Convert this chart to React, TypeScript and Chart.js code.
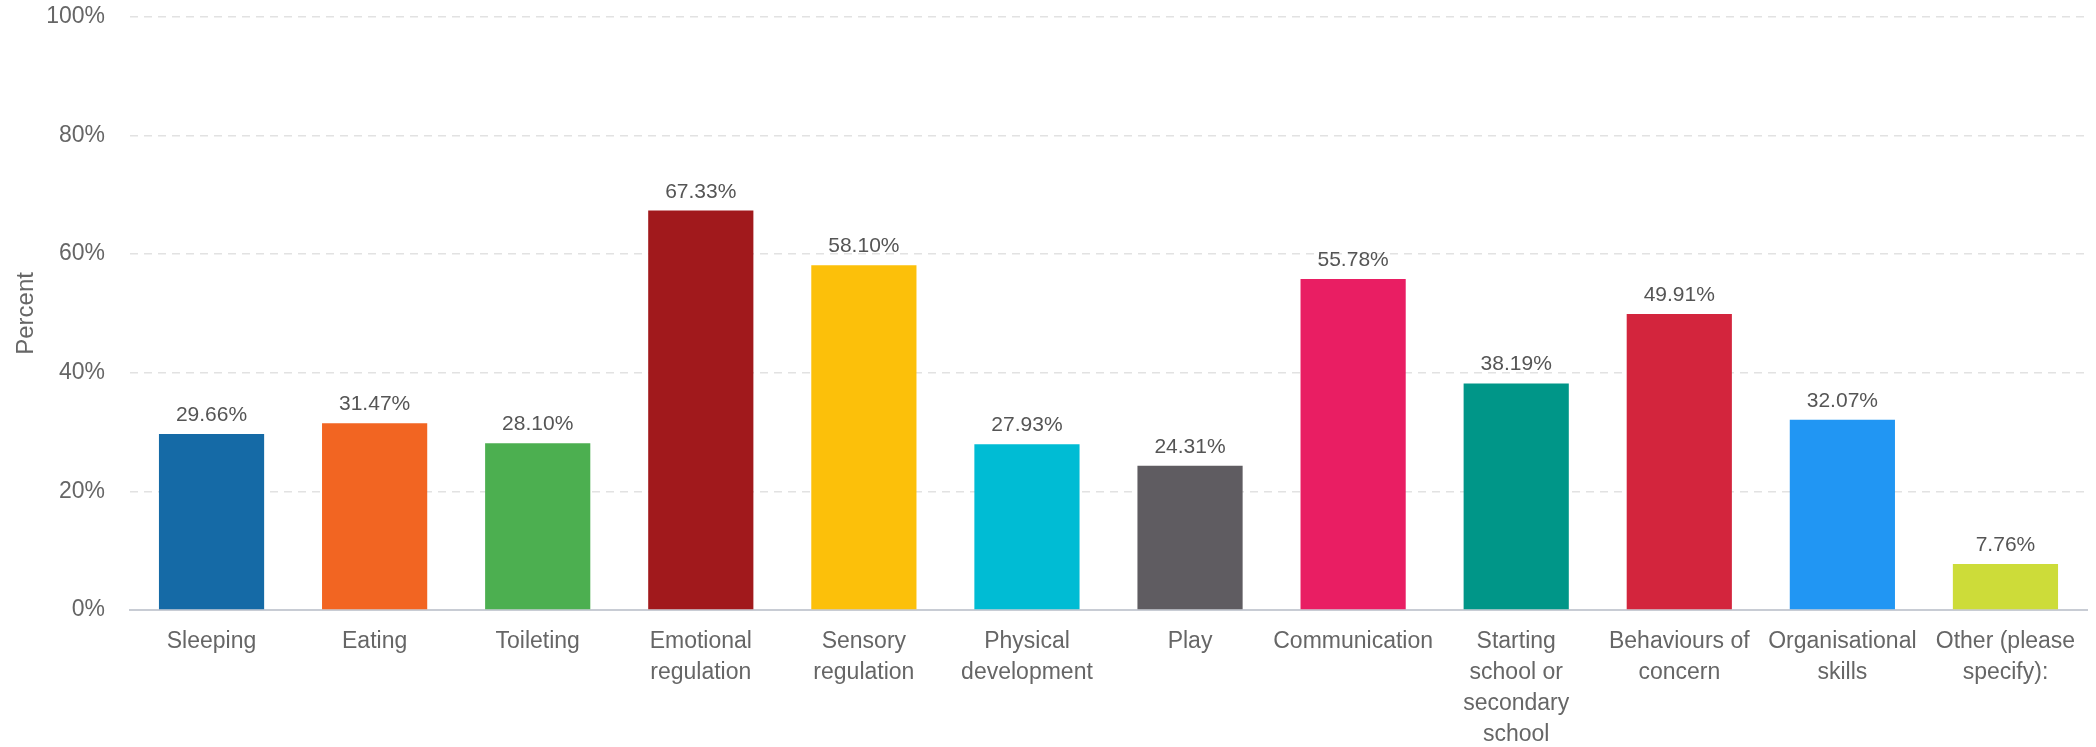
import React, { useEffect, useRef } from "react";
import { Chart, registerables } from "chart.js";

Chart.register(...registerables);

const categories: (string | string[])[] = [
  "Sleeping",
  "Eating",
  "Toileting",
  ["Emotional", "regulation"],
  ["Sensory", "regulation"],
  ["Physical", "development"],
  "Play",
  "Communication",
  ["Starting", "school or", "secondary", "school"],
  ["Behaviours of", "concern"],
  ["Organisational", "skills"],
  ["Other (please", "specify):"],
];

const percentValues: number[] = [
  29.66, 31.47, 28.1, 67.33, 58.1, 27.93, 24.31, 55.78, 38.19, 49.91, 32.07, 7.76,
];

const barColors: string[] = [
  "#156aa6",
  "#f26522",
  "#4caf50",
  "#a1191c",
  "#fcc00a",
  "#00bcd4",
  "#5f5c61",
  "#e91e63",
  "#009688",
  "#d3253d",
  "#2196f3",
  "#cddc39",
];

const yTicks: number[] = [0, 20, 40, 60, 80, 100];

const FONT = "'Liberation Sans', Arial, sans-serif";

const valueLabelPlugin = {
  id: "valueLabels",
  afterDatasetsDraw(chart: any) {
    const ctx = chart.ctx;
    const meta = chart.getDatasetMeta(0);
    ctx.save();
    ctx.font = `21px ${FONT}`;
    ctx.fillStyle = "#555555";
    ctx.textAlign = "center";
    ctx.textBaseline = "alphabetic";
    meta.data.forEach((bar: any, i: number) => {
      const v = percentValues[i];
      ctx.fillText(`${v.toFixed(2)}%`, bar.x, bar.y - 13);
    });
    ctx.restore();
  },
};

export default function App() {
  const canvasRef = useRef<HTMLCanvasElement | null>(null);

  useEffect(() => {
    document.body.style.margin = "0";
    if (!canvasRef.current) return;
    const chart = new Chart(canvasRef.current, {
      type: "bar",
      data: {
        labels: categories,
        datasets: [
          {
            data: percentValues,
            backgroundColor: barColors,
            borderWidth: 0,
            barPercentage: 0.645,
            categoryPercentage: 1,
          },
        ],
      },
      options: {
        animation: false,
        responsive: true,
        maintainAspectRatio: false,
        layout: { padding: { top: 0, right: 9, left: 0, bottom: 0 } },
        plugins: {
          legend: { display: false },
          tooltip: { enabled: false },
        },
        scales: {
          x: {
            grid: { display: false, drawTicks: false },
            border: { display: true, color: "#c8ccd4", width: 2 },
            ticks: {
              color: "#666666",
              font: { family: FONT, size: 23, lineHeight: 1.35 },
              padding: 16,
              maxRotation: 0,
              autoSkip: false,
            },
            afterFit(scale: any) {
              scale.height = 137;
            },
          },
          y: {
            min: 0,
            max: 100,
            afterBuildTicks(scale: any) {
              scale.ticks = yTicks.map((v) => ({ value: v }));
            },
            ticks: {
              color: "#666666",
              font: { family: FONT, size: 23 },
              padding: 3,
              callback: (v: any) => `${v}%`,
            },
            grid: {
              color: (c: any) => (c.tick && c.tick.value === 0 ? "rgba(0,0,0,0)" : "#e2e2e2"),
              lineWidth: 1.5,
              drawTicks: true,
              tickLength: 22,
              tickColor: "rgba(0,0,0,0)",
            },
            border: { display: false, dash: [8, 6] },
            title: {
              display: true,
              text: "Percent",
              color: "#666666",
              font: { family: FONT, size: 24 },
              padding: { top: 12, bottom: 0 },
            },
            afterFit(scale: any) {
              scale.width = 130;
            },
          },
        },
      },
      plugins: [valueLabelPlugin],
    });
    return () => chart.destroy();
  }, []);

  return (
    <div style={{ position: "fixed", left: 0, top: 0, width: "2096px", height: "747px", background: "#fff" }}>
      <canvas ref={canvasRef} />
    </div>
  );
}
